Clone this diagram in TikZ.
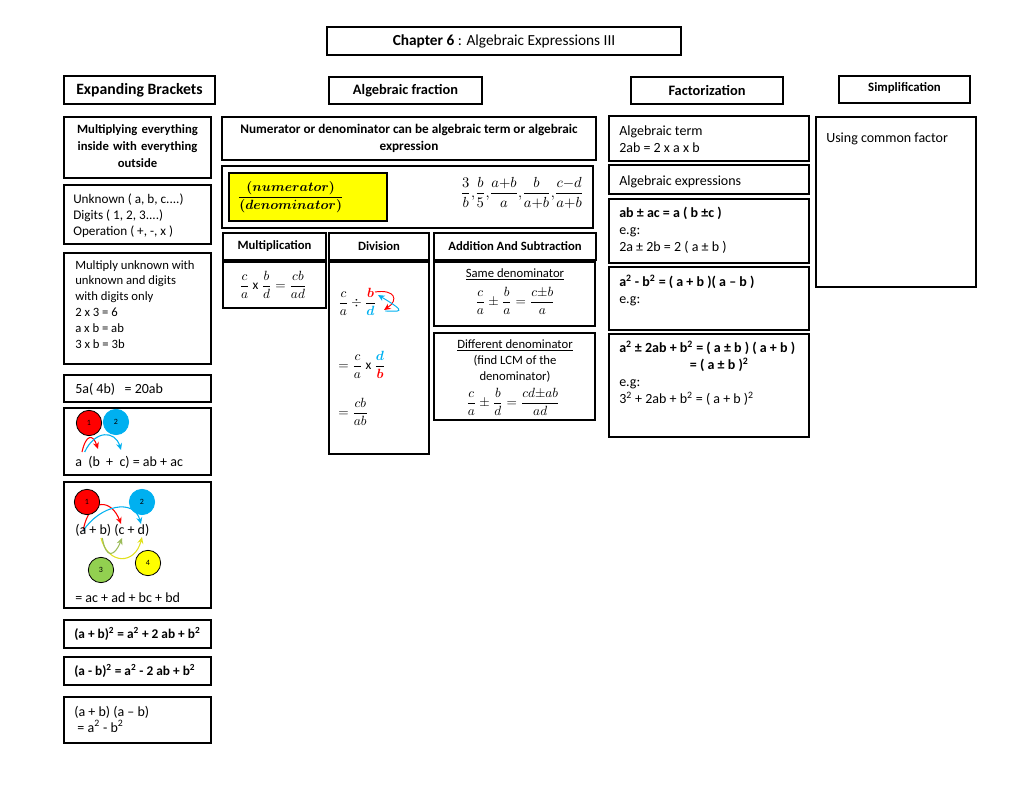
\documentclass[tikz,border=0pt]{standalone}
\usepackage{fontspec}
\setmainfont{Carlito}
\usepackage{amsmath,bm}
\usetikzlibrary{fit,arrows.meta}
\definecolor{oblue}{RGB}{0,176,240}
\definecolor{ored}{RGB}{255,0,0}
\definecolor{ogreen}{RGB}{146,208,80}
\definecolor{oyellow}{RGB}{255,255,0}
\definecolor{yarrow}{RGB}{225,225,30}
\definecolor{garrow}{RGB}{155,187,89}
\newcommand{\bodyfont}{\fontsize{9.5}{11.9}\selectfont}
\newcommand{\bigbody}{\fontsize{10.5}{12.6}\selectfont}
\newcommand{\hdrfont}{\fontsize{10.8}{12}\selectfont\bfseries}
\newcommand{\sq}{\textsuperscript{2}}
\begin{document}
\begin{tikzpicture}[x=0.75pt,y=-0.75pt,font=\bodyfont,
  box/.style={draw, line width=0.8pt, inner sep=0pt},
  txt/.style={inner sep=0pt, align=left, anchor=north west},
  ctxt/.style={inner sep=0pt, align=center},
  hdr/.style={inner sep=0pt, align=center, font=\hdrfont},
  circ/.style={circle, draw=black, line width=0.6pt, minimum size=19pt, inner sep=0pt, font=\fontsize{6}{7}\selectfont},
  arr/.style={line width=0.8pt, -{Stealth[length=5pt,width=4.5pt]}}]
\useasboundingbox (0,0) rectangle (1023,791);

% ---------- headers ----------
\node[box, fit={(327,27)(681,55)}] (title) {};
\node[ctxt, font=\fontsize{11.5}{13}\selectfont] at (title) {\textbf{Chapter 6} : Algebraic Expressions III};
\node[box, fit={(64,76)(215,104)}] (hexp) {};
\node[hdr, font=\fontsize{11.8}{13}\selectfont\bfseries] at (hexp) {Expanding Brackets};
\node[box, fit={(329,77)(482,104)}] (hfrac) {};
\node[hdr] at (hfrac) {Algebraic fraction};
\node[box, fit={(631,77)(783,104)}] (hfact) {};
\node[hdr] at (hfact) {Factorization};
\node[box, fit={(839,76)(970,103)}] (hsimp) {};
\node[hdr, font=\fontsize{9.6}{11}\selectfont\bfseries] at ([yshift=1]hsimp) {Simplification};

% ---------- expanding brackets ----------
\node[box, fit={(64,117)(211,178)}] (e1) {};
\node[ctxt, font=\fontsize{9.5}{13}\selectfont\bfseries, text width=140pt] at ([yshift=1]e1) {Multiplying everything\\ inside with everything\\ outside};
\node[box, fit={(64,185)(211,244)}] (e2) {};
\node[txt, font=\fontsize{9.9}{11.8}\selectfont] at (73,194) {Unknown ( a, b, c....)\\ Digits ( 1, 2, 3....)\\ Operation ( +, -, x )};
\node[box, fit={(64,253)(211,364)}] (e3) {};
\node[txt] at (75,260) {Multiply unknown with\\ unknown and digits\\ with digits only\\ 2 x 3 = 6\\ a x b = ab\\ 3 x b = 3b};
\node[box, fit={(64,375)(211,402)}] (e4) {};
\node[txt, anchor=west, font=\bigbody] at (75,389) {5a( 4b) \ \ = 20ab};

\node[box, fit={(64,408)(211,475)}] (e5) {};
\coordinate (e5a) at (82,452);
\coordinate (e5b) at (98,449);
\coordinate (e5c) at (121,450);
\draw[arr, ored] (e5a) .. controls (86,434) and (93,434) .. (e5b);
\draw[arr, oblue] ([xshift=2]e5a) .. controls (95,430) and (115,430) .. (e5c);
\node[circ, fill=ored] (c51) at (89,423) {1};
\node[circ, fill=oblue, draw=oblue] (c52) at (116,422) {2};
\node[txt, anchor=west, font=\bigbody] at (75,462) {a \ (b \ + \ c) = ab + ac};

\node[box, fit={(64,482)(211,608)}] (e6) {};
\coordinate (e6a) at (83,531);
\coordinate (e6b) at (101,538);
\coordinate (e6c) at (121,524);
\coordinate (e6d) at (141,524);
\coordinate (e6c2) at (122,538);
\coordinate (e6d2) at (142,537);
\draw[arr, ored] (e6a) .. controls (90,495) and (112,500) .. (e6c);
\draw[arr, oblue] (e6a) .. controls (100,505) and (134,498) .. (e6d);
\draw[arr, yarrow] (e6b) .. controls (108,565) and (135,565) .. (e6d2);
\draw[arr, garrow] ([xshift=1]e6b) .. controls (106,560) and (115,556) .. (e6c2);
\node[circ, fill=ored] (c61) at (87,502) {1};
\node[circ, fill=oblue, draw=oblue] (c62) at (142,502) {2};
\node[circ, fill=ogreen] (c63) at (101,570) {3};
\node[circ, fill=oyellow] (c64) at (148,563) {4};
\node[txt, anchor=west, font=\bigbody] at (75,530) {(a + b) (c + d)};
\node[txt, anchor=west, font=\bigbody] at (75,598) {= ac + ad + bc + bd};

\node[box, fit={(64,620)(211,648)}] (e7) {};
\node[txt, anchor=west, font=\fontsize{10}{12}\selectfont\bfseries] at (74,634) {(a + b)\sq{} = a\sq{} + 2 ab + b\sq};
\node[box, fit={(64,657)(211,685)}] (e8) {};
\node[txt, anchor=west, font=\fontsize{10}{12}\selectfont\bfseries] at (74,671) {(a - b)\sq{} = a\sq{} - 2 ab + b\sq};
\node[box, fit={(64,697)(211,743)}] (e9) {};
\node[txt, font=\fontsize{10.5}{11.8}\selectfont] at (74,706) {(a + b) (a -- b)\\ \ = a\sq{} - b\sq};

% ---------- algebraic fraction ----------
\node[box, fit={(222,117)(596,160)}] (f1) {};
\node[ctxt, font=\fontsize{9.9}{13}\selectfont\bfseries] at ([yshift=0]f1) {Numerator or denominator can be algebraic term or algebraic\\ expression};
\node[box, fit={(222,166)(593,228)}] (f2) {};
\node[box, fill=oyellow, fit={(229,173)(387,221)}] (fy) {};
\node[ctxt, font=\fontsize{10}{12}\selectfont] at ([xshift=-13]fy) {$\dfrac{\bm{(numerator)}}{\bm{(denominator)}}$};
\node[ctxt, font=\fontsize{10.6}{12}\selectfont] (fex) at (522,193) {$\dfrac{3}{b},\!\dfrac{b}{5},\!\dfrac{a{+}b}{a},\!\dfrac{b}{a{+}b},\!\dfrac{c{-}d}{a{+}b}$};

\node[box, fit={(223,233)(326,260)}] (hm) {};
\node[hdr, font=\bodyfont\bfseries] at (hm) {Multiplication};
\node[box, fit={(329,233)(429,260)}] (hd) {};
\node[hdr, font=\bodyfont\bfseries] at (hd) {Division};
\node[box, fit={(434,233)(596,260)}] (ha) {};
\node[hdr, font=\bodyfont\bfseries] at (ha) {Addition And Subtraction};

\node[box, fit={(223,262)(326,308)}] (m1) {};
\node[ctxt, font=\fontsize{10}{12}\selectfont] at (273,285) {$\dfrac{c}{a}$ x $\dfrac{b}{d}=\dfrac{cb}{ad}$};

\node[box, fit={(329,262)(429,454)}] (d1) {};
\node[txt, anchor=west, font=\fontsize{10}{12}\selectfont] (dv1) at (338,302) {$\dfrac{c}{a}\div\dfrac{\color{ored}\bm{b}}{\color{oblue}\bm{d}}$};
\coordinate (dr1) at (375,292);
\coordinate (dr2) at (384,310);
\coordinate (db1) at (385,311);
\coordinate (db2) at (378,295);
\draw[arr, ored, line width=0.7pt] (dr1) .. controls (395,289) and (399,300) .. (dr2);
\draw[arr, oblue, line width=0.7pt] (db1) .. controls (398,311) and (410,314) .. (db2);
\node[txt, anchor=west, font=\fontsize{10}{12}\selectfont] (dv2) at (338,365) {$=\dfrac{c}{a}$ x $\dfrac{\color{oblue}\bm{d}}{\color{ored}\bm{b}}$};
\node[txt, anchor=west, font=\fontsize{10}{12}\selectfont] (dv3) at (338,412) {$=\dfrac{cb}{ab}$};

\node[box, fit={(434,262)(595,326)}] (a1) {};
\node[ctxt] at (515,274) {\underline{Same denominator}};
\node[ctxt, font=\fontsize{10}{12}\selectfont] at (515,301) {$\dfrac{c}{a}\pm\dfrac{b}{a}=\dfrac{c{\pm}b}{a}$};
\node[box, fit={(434,333)(595,420)}] (a2) {};
\node[ctxt] at (515,361) {\underline{Different denominator}\\ (find LCM of the\\ denominator)};
\node[ctxt, font=\fontsize{10}{12}\selectfont] at (513,402) {$\dfrac{c}{a}\pm\dfrac{b}{d}=\dfrac{cd{\pm}ab}{ad}$};

% ---------- factorization ----------
\node[box, fit={(609,116)(809,161)}] (g1) {};
\node[txt, font=\bigbody] at (619,126) {Algebraic term\\ 2ab = 2 x a x b};
\node[box, fit={(609,165)(809,194)}] (g2) {};
\node[txt, anchor=west, font=\bigbody] at (619,182) {Algebraic expressions};
\node[box, fit={(609,199)(809,263)}] (g3) {};
\node[txt, font=\bigbody] at (619,207) {\textbf{ab ± ac = a ( b ±c )}\\ e.g:\\ 2a ± 2b = 2 ( a ± b )};
\node[box, fit={(609,267)(809,330)}] (g4) {};
\node[txt, font=\bigbody] at (619,275) {\textbf{a\sq{} - b\sq{} = ( a + b )( a -- b )}\\ e.g:};
\node[box, fit={(609,334)(809,437)}] (g5) {};
\node[txt, font=\bigbody] at (619,341) {\textbf{a\sq{} ± 2ab + b\sq{} = ( a ± b ) ( a + b )}\\ \hspace*{53pt}\textbf{= ( a ± b )\sq}\\ e.g:\\ 3\sq{} + 2ab + b\sq{} = ( a + b )\sq};

% ---------- simplification ----------
\node[box, fit={(816,117)(976,287)}] (s1) {};
\node[txt, anchor=west, font=\bigbody] at (826,139) {Using common factor};
\end{tikzpicture}
\end{document}
